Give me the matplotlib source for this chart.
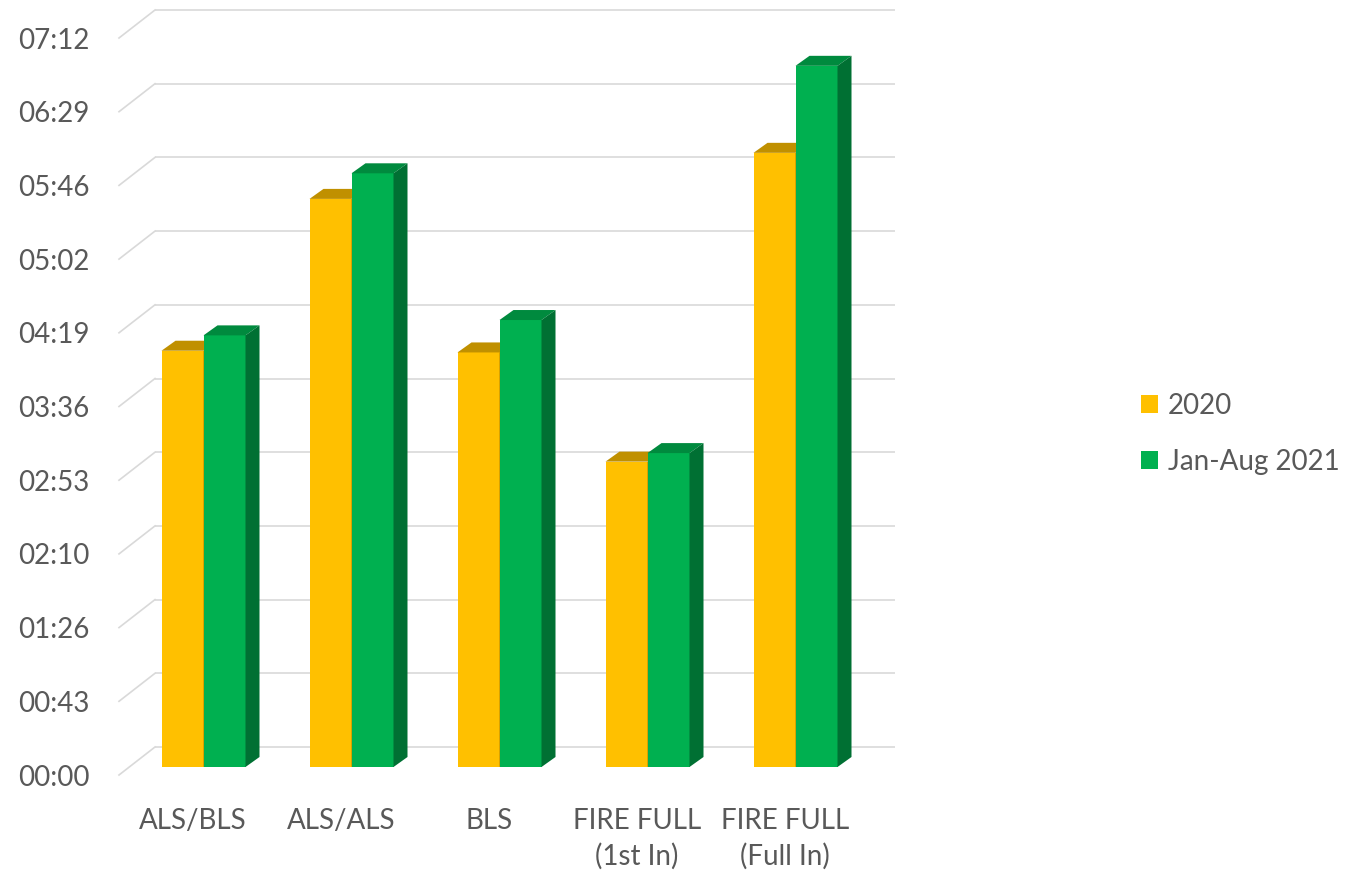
import matplotlib
matplotlib.use("Agg")
import matplotlib.pyplot as plt
from matplotlib.patches import Polygon, Patch

plt.rcParams['font.family'] = ['Lato', 'DejaVu Sans']

# ---- data ----
categories = ["ALS/BLS", "ALS/ALS", "BLS", "FIRE FULL\n(1st In)", "FIRE FULL\n(Full In)"]
series_names = ["2020", "Jan-Aug 2021"]
values_2020 = [244, 333, 243, 179, 360]      # seconds
values_2021 = [253, 348, 262, 184, 411]      # seconds
tick_values = [0, 43.2, 86.4, 129.6, 172.8, 216.0, 259.2, 302.4, 345.6, 388.8, 432.0]
tick_labels = ["00:00", "00:43", "01:26", "02:10", "02:53", "03:36",
               "04:19", "05:02", "05:46", "06:29", "07:12"]

# ---- style ----
C_Y, C_Y_TOP, C_Y_SIDE = "#FFC000", "#C09000", "#B08400"
C_G, C_G_TOP, C_G_SIDE = "#00B050", "#008A3E", "#007033"
GRID = "#D9D9D9"
TXT = "#595959"

W, H = 1370, 871
fig = plt.figure(figsize=(W / 100, H / 100), dpi=100)
ax = fig.add_axes([119 / W, (H - 775) / H, 740 / W, 737 / H])
ax.set_xlim(-0.5, len(categories) - 0.5)
ax.set_ylim(0, 432)

ppx = 740 / len(categories)        # px per category unit
ppy = 737 / 432                    # px per second
def dxu(px): return px / ppx
def dyu(px): return px / ppy

BACK_DX, BACK_DY = dxu(36), dyu(28)
FRONT_DX, FRONT_DY = dxu(10.5), dyu(8)
DEP_DX, DEP_DY = dxu(14), dyu(10)
BW = dxu(42)

# back wall gridlines + left wall diagonals
x0, x1 = -0.5, len(categories) - 0.5
for v in tick_values:
    ax.plot([x0 + BACK_DX, x1 + BACK_DX], [v + BACK_DY, v + BACK_DY], color=GRID,
            lw=1.2, clip_on=False, zorder=1, solid_capstyle='butt')
    ax.plot([x0, x0 + BACK_DX], [v, v + BACK_DY], color=GRID, lw=1.2,
            clip_on=False, zorder=1)

def draw_bar(xc, v, front, top, side, z):
    xl = xc - BW / 2 + FRONT_DX
    xr = xl + BW
    b = FRONT_DY
    t = v + FRONT_DY
    ax.add_patch(Polygon([(xl, b), (xr, b), (xr, t), (xl, t)], closed=True,
                         facecolor=front, edgecolor='none', zorder=z, clip_on=False))
    ax.add_patch(Polygon([(xl, t), (xr, t), (xr + DEP_DX, t + DEP_DY), (xl + DEP_DX, t + DEP_DY)],
                         closed=True, facecolor=top, edgecolor='none', zorder=z, clip_on=False))
    ax.add_patch(Polygon([(xr, b), (xr + DEP_DX, b + DEP_DY), (xr + DEP_DX, t + DEP_DY), (xr, t)],
                         closed=True, facecolor=side, edgecolor='none', zorder=z, clip_on=False))

for i in range(len(categories)):
    draw_bar(i - BW / 2, values_2020[i], C_Y, C_Y_TOP, C_Y_SIDE, 2 + i * 0.1)
    draw_bar(i + BW / 2, values_2021[i], C_G, C_G_TOP, C_G_SIDE, 2.05 + i * 0.1)

for s in ax.spines.values():
    s.set_visible(False)
ax.set_yticks(tick_values)
ax.set_yticklabels(tick_labels)
ax.set_xticks(range(len(categories)))
ax.set_xticklabels(categories, linespacing=1.4)
ax.tick_params(axis='both', length=0, labelsize=20, labelcolor=TXT)
ax.tick_params(axis='y', pad=21)
ax.tick_params(axis='x', pad=24)

handles = [Patch(facecolor=C_Y, edgecolor='none'), Patch(facecolor=C_G, edgecolor='none')]
leg = fig.legend(handles, series_names, loc='center left',
                 bbox_to_anchor=(1141 / W, (H - 434) / H), frameon=False,
                 fontsize=20, handlelength=0.62, handleheight=0.62,
                 handletextpad=0.35, labelspacing=1.08, borderpad=0, borderaxespad=0)
for t in leg.get_texts():
    t.set_color(TXT)

fig.savefig("out.png", dpi=100)
